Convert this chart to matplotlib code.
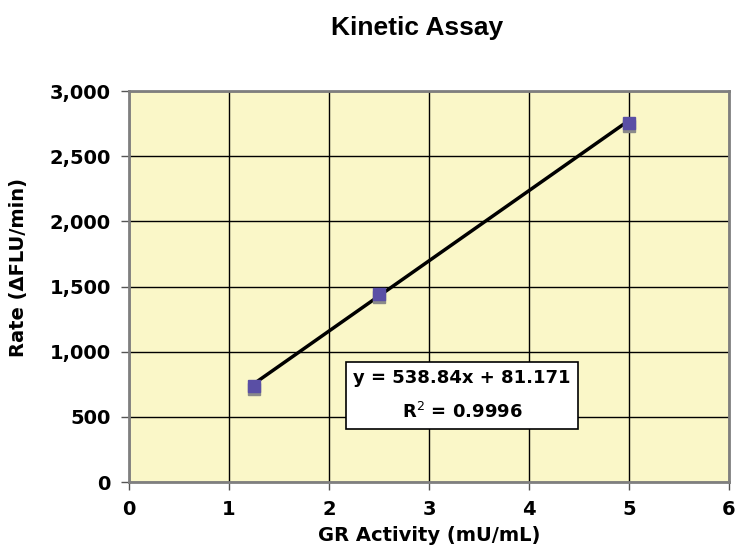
import numpy as np
import matplotlib.pyplot as plt
import matplotlib.transforms as mtransforms
from matplotlib.ticker import FuncFormatter

# data
activity = [1.25, 2.5, 5.0]
rate = [735, 1440, 2755]
slope, intercept = 538.84, 81.171
eq_text = "y = 538.84x + 81.171\nR$^{2}$ = 0.9996"

plt.rcParams['font.family'] = ['DejaVu Sans']

fig = plt.figure(figsize=(7.36, 5.49), dpi=100)
ax = fig.add_axes([0.1753, 0.122, 0.8152, 0.712])
ax.set_facecolor('#FAF7C8')

ax.set_xlim(0, 6)
ax.set_ylim(0, 3000)
ax.set_xticks(range(0, 7))
ax.set_yticks(range(0, 3001, 500))
ax.yaxis.set_major_formatter(FuncFormatter(lambda v, p: f"{int(v):,}"))
ax.grid(True, color='black', linewidth=1.0)
ax.set_axisbelow(True)

for s in ax.spines.values():
    s.set_color('#7f7f7f')
    s.set_linewidth(2)

ax.tick_params(direction='out', length=6, width=1, color='#555555',
               labelsize=14, pad=7)
for lab in ax.get_xticklabels() + ax.get_yticklabels():
    lab.set_fontweight('bold')

# trend line
xs = np.array([activity[0], activity[-1]])
ax.plot(xs, slope * xs + intercept, color='black', linewidth=2.5, zorder=3)

# markers with grey shadow underneath
shadow = ax.transData + mtransforms.ScaledTranslation(0, -2 / 72, fig.dpi_scale_trans)
ax.plot(activity, rate, 's', color='#8a8a8a', markersize=8, transform=shadow, zorder=4)
ax.plot(activity, rate, 's', color='#5A4FA5', markersize=8, zorder=5)

ax.text(3.33, 663, eq_text, ha='center', va='center', fontsize=13,
        fontweight='bold', linespacing=1.9, zorder=6,
        bbox=dict(boxstyle='square,pad=0.4', facecolor='white',
                  edgecolor='black', linewidth=1.2))

ax.set_xlabel("GR Activity (mU/mL)", fontsize=14, fontweight='bold', labelpad=5)
ax.set_ylabel("Rate (ΔFLU/min)", fontsize=14, fontweight='bold', va='center')
ax.yaxis.set_label_coords(-0.185, 0.55)
fig.text(0.566, 0.949, "Kinetic Assay", ha='center', va='center',
         fontsize=19, fontweight='bold', family='Liberation Sans')

fig.savefig("out.png", dpi=100)
